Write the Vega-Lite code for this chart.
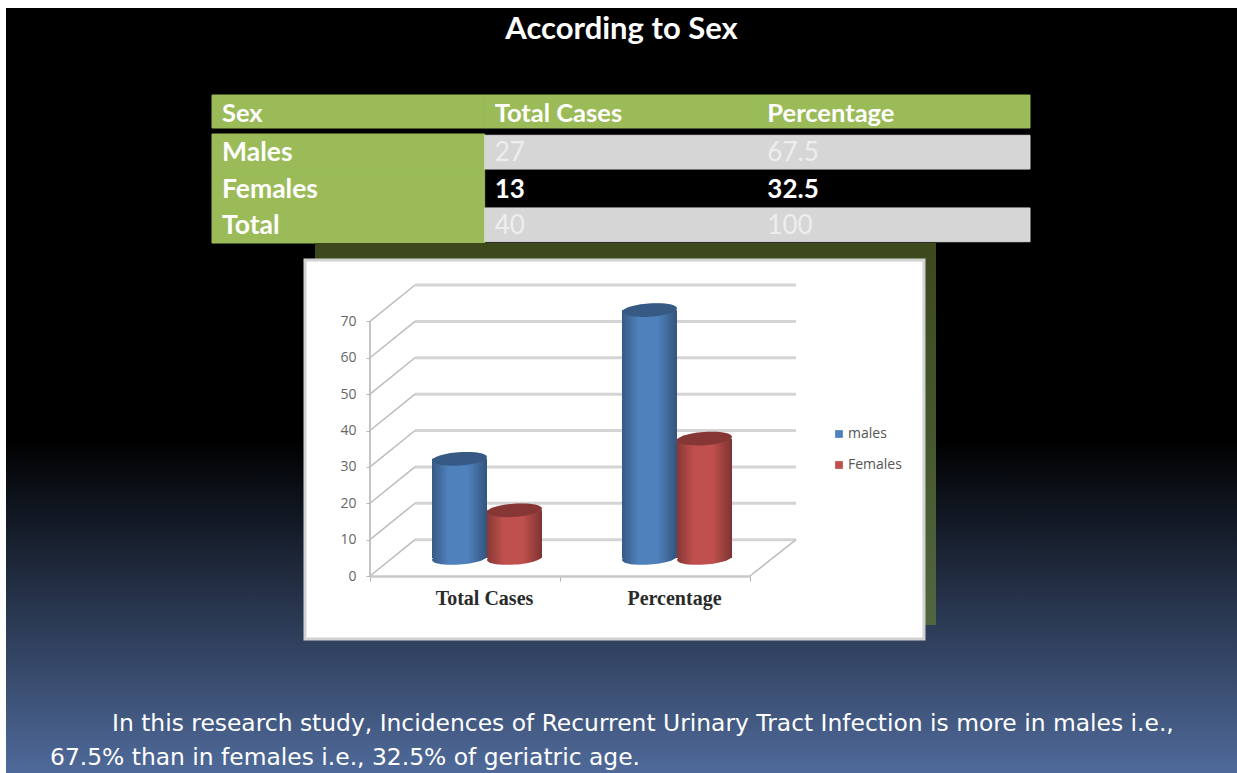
{
"$schema":"https://vega.github.io/schema/vega-lite/v6.json",
"width":1231,"height":765,"autosize":"none","padding":{"left":6,"top":8,"right":0,"bottom":0},"background":"white",
"view":{"stroke":null,"fill":{"gradient":"linear","x1":0,"y1":0,"x2":0,"y2":1,"stops":[{"offset":0,"color":"#000000"},{"offset":0.565,"color":"#000000"},{"offset":1,"color":"#4f6a9a"}]}},
"title":{"text":"According to Sex","anchor":"middle","frame":"group","orient":"top","offset":-38,"font":"Lato","fontSize":31,"fontWeight":"bold","color":"#ffffff"},
"config":{"font":"Open Sans"},
"datasets":{
"chart":[{"metric":"Total Cases","sex":"males","value":27},{"metric":"Total Cases","sex":"Females","value":13},{"metric":"Percentage","sex":"males","value":67.5},{"metric":"Percentage","sex":"Females","value":32.5}],
"ticks":[{"tick":0,"back":10},{"tick":10,"back":20},{"tick":20,"back":30},{"tick":30,"back":40},{"tick":40,"back":50},{"tick":50,"back":60},{"tick":60,"back":70},{"tick":70,"back":80}],
"header":[{"row":"Header","column":"Sex","text":"Sex"},{"row":"Header","column":"Total Cases","text":"Total Cases"},{"row":"Header","column":"Percentage","text":"Percentage"}],
"body":[{"row":"Males","column":"Sex","text":"Males"},{"row":"Males","column":"Total Cases","text":"27"},{"row":"Males","column":"Percentage","text":"67.5"},{"row":"Females","column":"Sex","text":"Females"},{"row":"Females","column":"Total Cases","text":"13"},{"row":"Females","column":"Percentage","text":"32.5"},{"row":"Total","column":"Sex","text":"Total"},{"row":"Total","column":"Total Cases","text":"40"},{"row":"Total","column":"Percentage","text":"100"}],
"caption":[{"line":"1","text":"In this research study, Incidences of Recurrent Urinary Tract Infection is more in males i.e.,"},{"line":"2","text":"67.5% than in females i.e., 32.5% of geriatric age."}]
},
"data":{"name":"chart"},
"resolve":{"scale":{"x":"independent","y":"independent","color":"independent"},"axis":{"x":"independent","y":"independent"}},
"layer":[
{"data":{"name":"header"},
 "encoding":{"x":{"field":"column","type":"nominal","axis":null,"sort":null,"scale":{"domain":["Sex","Total Cases","Percentage"],"range":[206,1024],"paddingInner":0,"paddingOuter":0}},
 "y":{"field":"row","type":"nominal","axis":null,"scale":{"domain":["Header"],"range":[87,120],"paddingInner":0,"paddingOuter":0}}},
 "layer":[
 {"mark":{"type":"rect","color":"#9bbb59","stroke":"#9bbb59","strokeWidth":1}},
 {"mark":{"type":"text","align":"left","dx":10,"dy":2,"font":"Lato","fontWeight":"bold","fontSize":25.5,"color":"#ffffff"},"encoding":{"x":{"field":"column","type":"nominal","bandPosition":0},"text":{"field":"text"}}}
 ]},
{"data":{"name":"body"},
 "encoding":{"x":{"field":"column","type":"nominal","axis":null,"scale":{"domain":["Sex","Total Cases","Percentage"],"range":[206,1024],"paddingInner":0,"paddingOuter":0}},
 "y":{"field":"row","type":"nominal","axis":null,"scale":{"domain":["Males","Females","Total"],"range":[126,235],"paddingInner":0,"paddingOuter":0}}},
 "layer":[
 {"transform":[{"filter":"datum.column==='Sex'"}],"mark":{"type":"rect","color":"#9bbb59","stroke":"#9bbb59","strokeWidth":1}},
 {"transform":[{"filter":"datum.column!=='Sex' && datum.row!=='Females'"}],"mark":{"type":"rect","color":"#d6d6d6","stroke":"#d6d6d6","strokeWidth":1,"height":{"band":0.93}}},
 {"transform":[{"filter":"datum.column==='Sex'"}],"mark":{"type":"text","align":"left","dx":10,"dy":1,"font":"Lato","fontWeight":"bold","fontSize":26.5,"color":"#ffffff"},"encoding":{"x":{"field":"column","type":"nominal","bandPosition":0},"text":{"field":"text"}}},
 {"transform":[{"filter":"datum.column!=='Sex' && datum.row!=='Females'"}],"mark":{"type":"text","align":"left","dx":10,"dy":1,"font":"Lato","fontSize":26,"color":"#eeeeee"},"encoding":{"x":{"field":"column","type":"nominal","bandPosition":0},"text":{"field":"text"}}},
 {"transform":[{"filter":"datum.column!=='Sex' && datum.row==='Females'"}],"mark":{"type":"text","align":"left","dx":10,"dy":1,"font":"Lato","fontWeight":"bold","fontSize":26,"color":"#ffffff"},"encoding":{"x":{"field":"column","type":"nominal","bandPosition":0},"text":{"field":"text"}}}
 ]},
{"data":{"values":[{"panel":"shadow"}]},
 "mark":{"type":"rect","color":{"gradient":"linear","x1":0,"y1":0,"x2":0,"y2":1,"stops":[{"offset":0,"color":"#3c481c"},{"offset":1,"color":"#506640"}]}},
 "encoding":{"x":{"datum":0,"type":"quantitative","axis":null,"scale":{"domain":[0,1],"range":[309,930]}},"x2":{"datum":1},"y":{"datum":0,"type":"quantitative","axis":null,"scale":{"domain":[0,1],"range":[235,617]}},"y2":{"datum":1}}},
{"data":{"values":[{"panel":"chart"}]},
 "mark":{"type":"rect","color":"#ffffff","stroke":"#d2d2d2","strokeWidth":3},
 "encoding":{"x":{"datum":0,"type":"quantitative","axis":null,"scale":{"domain":[0,1],"range":[299,918]}},"x2":{"datum":1},"y":{"datum":0,"type":"quantitative","axis":null,"scale":{"domain":[0,1],"range":[252,631]}},"y2":{"datum":1}}},
{"data":{"name":"ticks"},
 "mark":{"type":"rule","color":"#d4d4d4","strokeWidth":3},
 "encoding":{"x":{"datum":0,"type":"quantitative","axis":null,"scale":{"domain":[0,1],"range":[409,790]}},"x2":{"datum":1},"y":{"field":"back","type":"quantitative","axis":null,"scale":{"domain":[0,80],"range":[568,277]}}}},
{"data":{"name":"ticks"},
 "mark":{"type":"rule","color":"#bcbcbc","strokeWidth":1.5},
 "encoding":{"x":{"datum":0,"type":"quantitative","axis":null,"scale":{"domain":[0,1],"range":[364,409]}},"x2":{"datum":1},
 "y":{"field":"tick","type":"quantitative","scale":{"domain":[0,80],"range":[568,277]},"axis":{"title":null,"orient":"left","offset":-364,"zindex":1,"values":[0,10,20,30,40,50,60,70],"domain":false,"grid":false,"tickColor":"#b4b4b4","tickSize":4,"labelColor":"#666666","labelFont":"Open Sans","labelFontSize":14,"labelPadding":10}},"y2":{"field":"back"}}},
{"data":{"values":[{"from":0,"to":70}]},
 "mark":{"type":"rule","color":"#c4c4c4","strokeWidth":2},
 "encoding":{"x":{"datum":0,"type":"quantitative","axis":null,"scale":{"domain":[0,1],"range":[364,409]}},"y":{"field":"from","type":"quantitative","axis":null,"scale":{"domain":[0,80],"range":[568,277]}},"y2":{"field":"to"}}},
{"data":{"values":[{"from":0,"to":10}]},
 "mark":{"type":"rule","color":"#bcbcbc","strokeWidth":1.5},
 "encoding":{"x":{"datum":0,"type":"quantitative","axis":null,"scale":{"domain":[0,1],"range":[744,790]}},"x2":{"datum":1},"y":{"field":"from","type":"quantitative","axis":null,"scale":{"domain":[0,80],"range":[568,277]}},"y2":{"field":"to"}}},
{"mark":{"type":"rule","opacity":0},
 "encoding":{"x":{"field":"metric","type":"nominal","sort":null,"scale":{"domain":["Total Cases","Percentage"],"range":[364,744],"paddingInner":0,"paddingOuter":0},
 "axis":{"title":null,"orient":"bottom","offset":-197,"zindex":1,"tickBand":"extent","labelOffset":19,"labelAngle":0,"domainColor":"#c8c8c8","domainWidth":2.5,"tickColor":"#b4b4b4","tickSize":5,"labelColor":"#2a2a2a","labelFont":"Liberation Serif","labelFontWeight":"bold","labelFontSize":20,"labelPadding":7,"grid":false}}}},
{"encoding":{"x":{"field":"metric","type":"nominal","axis":null,"sort":null,"scale":{"domain":["Total Cases","Percentage"],"range":[386,766],"paddingInner":0,"paddingOuter":0}},
 "xOffset":{"field":"sex","type":"nominal","sort":null,"scale":{"domain":["males","Females"],"range":[40,150]}}},
 "layer":[
 {"mark":{"type":"point","filled":true,"opacity":1,"size":3025,"angle":-4,"shape":"M -1 0 A 1 0.24 0 1 1 1 0 A 1 0.24 0 1 1 -1 0 Z"},"encoding":{"color":{"field":"sex","type":"nominal","sort":null,"scale":{"domain":["males","Females"],"range":["#4f81bd","#c0504d"]},"legend":{"title":null,"orient":"none","legendX":826,"legendY":419,"symbolType":"square","symbolSize":60,"labelFont":"Open Sans","labelFontSize":14,"labelColor":"#555555","rowPadding":17,"padding":0,"labelOffset":2}},"y":{"datum":0,"type":"quantitative","axis":null,"scale":{"domain":[0,70],"range":[550,293]}}}},
 {"mark":{"type":"point","filled":true,"opacity":1,"size":3025,"angle":-4,"shape":"M -1 0 A 1 0.24 0 1 1 1 0 A 1 0.24 0 1 1 -1 0 Z","color":{"gradient":"linear","x1":0,"y1":0,"x2":1,"y2":0,"stops":[{"offset":0,"color":"rgba(0,0,0,0.3)"},{"offset":0.3,"color":"rgba(0,0,0,0)"},{"offset":0.65,"color":"rgba(0,0,0,0)"},{"offset":1,"color":"rgba(0,0,0,0.35)"}]}},"encoding":{"y":{"datum":0,"type":"quantitative"}}},
 {"mark":{"type":"bar"},"encoding":{"color":{"field":"sex","type":"nominal","sort":null},"y":{"field":"value","type":"quantitative"}}},
 {"mark":{"type":"bar","color":{"gradient":"linear","x1":0,"y1":0,"x2":1,"y2":0,"stops":[{"offset":0,"color":"rgba(0,0,0,0.3)"},{"offset":0.3,"color":"rgba(0,0,0,0)"},{"offset":0.65,"color":"rgba(0,0,0,0)"},{"offset":1,"color":"rgba(0,0,0,0.35)"}]}},"encoding":{"y":{"field":"value","type":"quantitative"}}},
 {"mark":{"type":"point","filled":true,"opacity":1,"size":3025,"angle":-4,"shape":"M -1 0 A 1 0.24 0 1 1 1 0 A 1 0.24 0 1 1 -1 0 Z"},"encoding":{"color":{"field":"sex","type":"nominal","sort":null},"y":{"field":"value","type":"quantitative"}}},
 {"mark":{"type":"point","filled":true,"opacity":1,"size":3025,"angle":-4,"shape":"M -1 0 A 1 0.24 0 1 1 1 0 A 1 0.24 0 1 1 -1 0 Z","color":"rgba(0,0,0,0.3)"},"encoding":{"y":{"field":"value","type":"quantitative"}}}
 ]},
{"data":{"name":"caption"},
 "mark":{"type":"text","align":"left","font":"DejaVu Sans","fontSize":23.4,"color":"#ffffff"},
 "encoding":{"x":{"field":"line","type":"nominal","axis":null,"bandPosition":0,"scale":{"domain":["2","1"],"range":[13,137],"paddingInner":0,"paddingOuter":0}},
 "y":{"field":"line","type":"nominal","axis":null,"scale":{"domain":["1","2"],"range":[699,767],"paddingInner":0,"paddingOuter":0}},
 "text":{"field":"text"}}}
]
}
